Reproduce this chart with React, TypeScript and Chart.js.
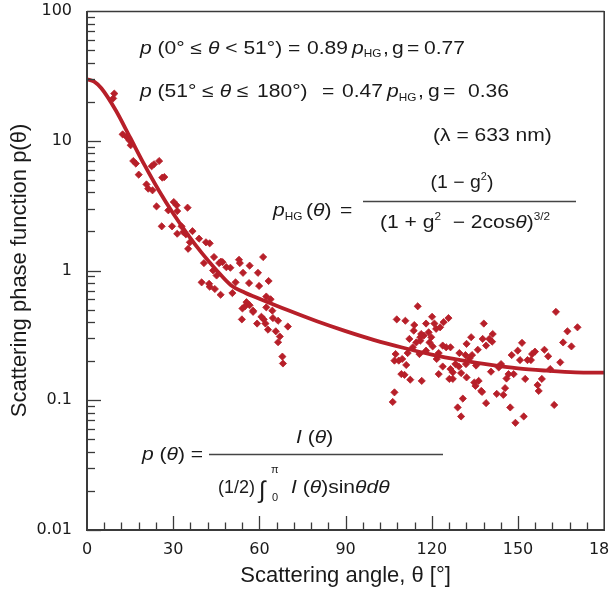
import { useEffect, useRef } from 'react';
import { Chart, registerables } from 'chart.js';

Chart.register(...registerables);

// ---- data ----
const curveTheta = [0, 2.5, 5, 10, 15, 20, 25, 30, 35, 40, 45, 50, 55, 60, 70, 80, 90, 100, 110, 120, 130, 140, 150, 160, 170, 180];
const curveP = [29.8, 28.6, 25.4, 17.2, 10.6, 6.51, 4.14, 2.75, 1.9, 1.36, 1.01, 0.774, 0.674, 0.606, 0.493, 0.406, 0.341, 0.291, 0.254, 0.225, 0.204, 0.188, 0.176, 0.169, 0.164, 0.163];

const forwardTheta = [9.5, 9.1, 12.4, 13.8, 14.7, 15.2, 16.1, 17.0, 18.0, 22.5, 23.3, 25.1, 26.2, 26.9, 20.7, 21.3, 22.8, 24.2, 26.0, 29.6, 30.2, 31.2, 28.3, 31.4, 35.0, 31.4, 32.9, 33.5, 34.4, 36.7, 35.2, 35.8, 39.0, 41.4, 42.7, 44.2, 40.7, 46.0, 46.6, 48.5, 43.9, 39.9, 42.5, 42.7, 44.5, 46.5, 47.2, 52.9, 53.2, 61.3, 49.9, 56.6, 54.3, 59.5, 45.1, 56.4, 59.9, 63.2, 51.7, 50.6, 55.5, 56.6, 54.1, 57.8, 62.4, 63.9, 64.5, 62.4, 53.9, 59.2, 60.7, 61.5, 62.1, 63.0, 64.7, 66.5, 65.7, 67.1, 66.5, 69.9, 68.0, 68.2, 55.0, 57.8];
const forwardP = [23.1, 21.2, 11.2, 10.7, 10.1, 9.23, 6.98, 6.67, 5.48, 6.36, 6.59, 6.98, 5.2, 5.25, 4.61, 4.27, 4.15, 3.12, 2.19, 2.19, 3.37, 3.18, 2.91, 2.87, 3.05, 1.92, 2.19, 1.98, 1.9, 2.01, 1.47, 1.65, 1.76, 1.65, 1.62, 1.27, 1.14, 1.14, 1.17, 1.06, 1.0, 0.81, 0.79, 0.75, 0.72, 0.65, 1.16, 1.21, 1.14, 1.27, 1.05, 1.09, 0.96, 0.96, 0.915, 0.8, 0.76, 0.83, 0.81, 0.67, 0.57, 0.54, 0.51, 0.49, 0.63, 0.6, 0.49, 0.52, 0.42, 0.39, 0.44, 0.42, 0.39, 0.35, 0.43, 0.41, 0.34, 0.31, 0.28, 0.37, 0.217, 0.192, 0.53, 0.48];

const backTheta = [115.1, 107.8, 110.8, 120.1, 118.0, 120.9, 122.9, 124.1, 125.8, 121.5, 113.7, 118.9, 119.8, 112.2, 116.0, 117.2, 114.6, 113.4, 119.2, 120.3, 107.4, 107.0, 108.5, 109.7, 111.6, 111.1, 115.7, 118.0, 122.4, 121.7, 123.8, 125.0, 126.5, 132.1, 133.7, 129.6, 131.7, 133.1, 134.0, 136.0, 137.7, 138.9, 123.8, 126.5, 128.2, 129.4, 131.9, 135.4, 127.3, 130.2, 109.4, 110.5, 112.5, 116.5, 122.4, 126.1, 127.3, 132.1, 134.8, 136.3, 135.2, 137.2, 107.0, 106.4, 130.8, 129.0, 130.2, 138.9, 138.1, 140.0, 141.2, 141.0, 151.4, 149.9, 147.8, 150.7, 153.3, 154.5, 154.9, 155.9, 159.2, 160.5, 163.2, 167.2, 165.7, 168.6, 170.7, 164.7, 161.2, 144.1, 143.3, 140.6, 146.7, 148.5, 146.0, 152.5, 158.3, 156.8, 157.2, 137.5, 142.6, 144.9, 145.5, 147.3, 152.0, 149.1, 162.6, 113.9, 116.3, 116.0];
const backP = [0.53, 0.42, 0.41, 0.44, 0.39, 0.39, 0.365, 0.4, 0.43, 0.355, 0.344, 0.334, 0.306, 0.297, 0.306, 0.315, 0.279, 0.256, 0.279, 0.26, 0.227, 0.202, 0.202, 0.208, 0.231, 0.187, 0.227, 0.241, 0.231, 0.208, 0.264, 0.256, 0.256, 0.272, 0.306, 0.231, 0.223, 0.21, 0.223, 0.245, 0.297, 0.264, 0.182, 0.174, 0.19, 0.182, 0.19, 0.185, 0.164, 0.162, 0.159, 0.157, 0.144, 0.141, 0.159, 0.146, 0.146, 0.15, 0.137, 0.141, 0.129, 0.118, 0.115, 0.097, 0.103, 0.088, 0.075, 0.095, 0.39, 0.297, 0.324, 0.283, 0.277, 0.241, 0.223, 0.204, 0.204, 0.204, 0.227, 0.237, 0.245, 0.218, 0.48, 0.34, 0.279, 0.26, 0.365, 0.196, 0.174, 0.19, 0.179, 0.166, 0.159, 0.159, 0.147, 0.146, 0.146, 0.131, 0.118, 0.116, 0.112, 0.11, 0.124, 0.088, 0.075, 0.067, 0.092, 0.38, 0.324, 0.288];

const xTickValues = [0, 30, 60, 90, 120, 150, 180];
const xTickLabels = ['0', '30', '60', '90', '120', '150', '180'];
const yTickValues = [0.01, 0.1, 1, 10, 100];
const yTickLabels = ['0.01', '0.1', '1', '10', '100'];
const xTitle = 'Scattering angle, θ [°]';
const yTitle = 'Scattering phase function p(θ)';

// ---- styles ----
const RED = '#b71f29';
const TEXT = '#1a1a1a';
const AXIS = '#3a3a3a';
const FONT = "'Liberation Sans', Arial, Helvetica, sans-serif";
const TICK_FONT = "'DejaVu Sans', sans-serif";

type Run = { t: string; it?: boolean; sub?: boolean; sup?: boolean };
const I = (t: string): Run => ({ t, it: true });
const N = (t: string): Run => ({ t });
const SUB = (t: string): Run => ({ t, sub: true });
const SUP = (t: string): Run => ({ t, sup: true });

type Label = { x: number; y: number; runs: Run[]; size?: number; sx?: number; center?: boolean };

const labels: Label[] = [
  { x: 140, y: 53.5, runs: [I('p'), N(' (0° ≤ '), I('θ'), N(' < 51°) =')] },
  { x: 307, y: 53.5, runs: [N('0.89')] },
  { x: 352, y: 53.5, runs: [I('p'), SUB('HG')] },
  { x: 383, y: 53.5, runs: [N(',')] },
  { x: 392, y: 53.5, runs: [N('g')] },
  { x: 407, y: 53.5, runs: [N('=')] },
  { x: 424, y: 53.5, runs: [N('0.77')] },
  { x: 140, y: 97, runs: [I('p'), N(' (51° ≤ '), I('θ'), N(' ≤ ')] },
  { x: 257, y: 97, runs: [N('180°)')] },
  { x: 322, y: 97, runs: [N('=')] },
  { x: 342, y: 97, runs: [N('0.47')] },
  { x: 387, y: 97, runs: [I('p'), SUB('HG')] },
  { x: 418, y: 97, runs: [N(',')] },
  { x: 428, y: 97, runs: [N('g')] },
  { x: 443, y: 97, runs: [N('=')] },
  { x: 468, y: 97, runs: [N('0.36')] },
  { x: 433, y: 140.5, runs: [N('(λ = 633 nm)')] },
  { x: 273, y: 216, runs: [I('p'), SUB('HG')] },
  { x: 306, y: 216, runs: [N('('), I('θ'), N(')')] },
  { x: 340, y: 216, runs: [N('=')] },
  { x: 462, y: 188, runs: [N('(1 − g'), SUP('2'), N(')')], sx: 1.08, center: true },
  { x: 380, y: 228, runs: [N('(1 + g'), SUP('2'), N('  − 2cos'), I('θ'), N(')'), SUP('3/2')] },
  { x: 142, y: 460, runs: [I('p'), N(' ('), I('θ'), N(') =')] },
  { x: 296, y: 443, runs: [I('I'), N(' ('), I('θ'), N(')')] },
  { x: 218, y: 493, runs: [N('(1/2)')], sx: 1.0 },
  { x: 291, y: 493, runs: [I('I'), N(' ('), I('θ'), N(')sin'), I('θ'), I('d'), I('θ')] },
];

function drawRuns(ctx: CanvasRenderingContext2D, l: Label) {
  const size = l.size ?? 18;
  const sx = l.sx ?? 1.17;
  const fontOf = (r: Run) => `${r.it ? 'italic ' : ''}${r.sub || r.sup ? size * 0.56 : size}px ${FONT}`;
  ctx.save();
  let total = 0;
  for (const r of l.runs) {
    ctx.font = fontOf(r);
    total += ctx.measureText(r.t).width;
  }
  ctx.translate(l.center ? l.x - (total * sx) / 2 : l.x, l.y);
  ctx.scale(sx, 1);
  ctx.fillStyle = TEXT;
  ctx.textAlign = 'left';
  ctx.textBaseline = 'alphabetic';
  let cx = 0;
  for (const r of l.runs) {
    ctx.font = fontOf(r);
    const dy = r.sub ? size * 0.2 : r.sup ? -size * 0.42 : 0;
    ctx.fillText(r.t, cx, dy);
    cx += ctx.measureText(r.t).width;
  }
  ctx.restore();
}

const decoPlugin = {
  id: 'deco',
  afterDraw(chart: any) {
    const { ctx, chartArea: a, scales } = chart;
    const xs = scales.x;
    const ys = scales.y;
    ctx.save();
    ctx.strokeStyle = AXIS;
    ctx.lineCap = 'butt';

    // x ticks (inside, pointing up)
    ctx.lineWidth = 1.3;
    for (let v = 6; v < 180; v += 6) {
      const px = Math.round(xs.getPixelForValue(v)) + 0.5;
      const len = v % 30 === 0 ? 14 : 7.5;
      ctx.beginPath();
      ctx.moveTo(px, a.bottom);
      ctx.lineTo(px, a.bottom - len);
      ctx.stroke();
    }
    // y ticks (inside, pointing right)
    for (const dec of [0.01, 0.1, 1, 10]) {
      for (let m = 1; m <= 9; m++) {
        const v = dec * m;
        const py = Math.round(ys.getPixelForValue(v)) + 0.5;
        const len = m === 1 ? 14 : 8;
        ctx.beginPath();
        ctx.moveTo(a.left, py);
        ctx.lineTo(a.left + len, py);
        ctx.stroke();
      }
    }

    // frame
    ctx.lineWidth = 1.3;
    ctx.beginPath();
    ctx.moveTo(a.left, a.top + 0.5);
    ctx.lineTo(a.right, a.top + 0.5);
    ctx.stroke();
    ctx.lineWidth = 1.6;
    ctx.beginPath();
    ctx.moveTo(a.right, a.top);
    ctx.lineTo(a.right, a.bottom);
    ctx.stroke();
    ctx.lineWidth = 2;
    ctx.beginPath();
    ctx.moveTo(a.left, a.top);
    ctx.lineTo(a.left, a.bottom);
    ctx.lineTo(a.right + 0.8, a.bottom);
    ctx.stroke();

    // fraction bars
    ctx.lineWidth = 1.3;
    ctx.strokeStyle = '#444';
    ctx.beginPath();
    ctx.moveTo(363, 201.5);
    ctx.lineTo(576, 201.5);
    ctx.moveTo(209, 454.5);
    ctx.lineTo(443, 454.5);
    ctx.stroke();
    ctx.restore();

    for (const l of labels) drawRuns(ctx, l);

    // integral sign with limits
    ctx.save();
    ctx.fillStyle = TEXT;
    ctx.textBaseline = 'alphabetic';
    ctx.font = `24px ${FONT}`;
    ctx.fillText('∫', 259, 498);
    ctx.font = `11px ${FONT}`;
    ctx.fillText('π', 271, 473);
    ctx.fillText('0', 272, 501);
    ctx.restore();
  },
};

export default function App() {
  const ref = useRef<HTMLCanvasElement>(null);
  useEffect(() => {
    const canvas = ref.current;
    if (!canvas) return;
    const pointStyle = {
      pointStyle: 'rectRot',
      pointRadius: 3.6,
      borderWidth: 0.8,
      borderColor: RED,
      backgroundColor: RED,
      order: 1,
    };
    const chart = new Chart(canvas, {
      type: 'scatter',
      data: {
        datasets: [
          {
            label: 'p(θ) model',
            data: curveTheta.map((t, i) => ({ x: t, y: curveP[i] })),
            showLine: true,
            borderColor: RED,
            backgroundColor: RED,
            borderWidth: 3.8,
            pointRadius: 0,
            cubicInterpolationMode: 'monotone',
            order: 0,
          } as any,
          {
            label: 'measured (forward)',
            data: forwardTheta.map((t, i) => ({ x: t, y: forwardP[i] })),
            ...pointStyle,
          } as any,
          {
            label: 'measured (backward)',
            data: backTheta.map((t, i) => ({ x: t, y: backP[i] })),
            ...pointStyle,
          } as any,
        ],
      },
      options: {
        animation: false,
        responsive: false,
        devicePixelRatio: 1,
        layout: { padding: { top: 11, right: 4, left: 0, bottom: 0 } },
        plugins: { legend: { display: false }, tooltip: { enabled: false } },
        scales: {
          x: {
            type: 'linear',
            min: 0,
            max: 180,
            grid: { display: false, drawTicks: false },
            border: { display: false },
            afterBuildTicks: (s: any) => {
              s.ticks = xTickValues.map((v) => ({ value: v }));
            },
            afterFit: (s: any) => {
              s.height = 60;
              s.paddingLeft = 0;
              s.paddingRight = 0;
            },
            ticks: {
              autoSkip: false,
              maxRotation: 0,
              padding: 10,
              color: '#1a1a1a',
              font: { family: TICK_FONT, size: 16 },
              callback: (_v: any, i: number) => xTickLabels[i],
            },
            title: {
              display: true,
              text: xTitle,
              color: TEXT,
              font: { family: FONT, size: 22 },
              padding: { top: 0, bottom: 1 },
            },
          },
          y: {
            type: 'logarithmic',
            min: 0.01,
            max: 100,
            grid: { display: false, drawTicks: false },
            border: { display: false },
            afterBuildTicks: (s: any) => {
              s.ticks = yTickValues.map((v) => ({ value: v }));
            },
            afterFit: (s: any) => {
              s.width = 87;
              s.paddingTop = 0;
              s.paddingBottom = 0;
            },
            ticks: {
              autoSkip: false,
              padding: 15,
              color: '#1a1a1a',
              font: { family: TICK_FONT, size: 16 },
              callback: (_v: any, i: number) => yTickLabels[i],
            },
            title: {
              display: true,
              text: yTitle,
              color: TEXT,
              font: { family: FONT, size: 22 },
              padding: { top: 7, bottom: 0 },
            },
          },
        },
      } as any,
      plugins: [decoPlugin],
    });
    return () => chart.destroy();
  }, []);

  return (
    <div style={{ position: 'absolute', left: 0, top: 0, width: 609, height: 590, background: '#fff' }}>
      <canvas ref={ref} width={609} height={590} style={{ display: 'block', width: 609, height: 590 }} />
    </div>
  );
}
